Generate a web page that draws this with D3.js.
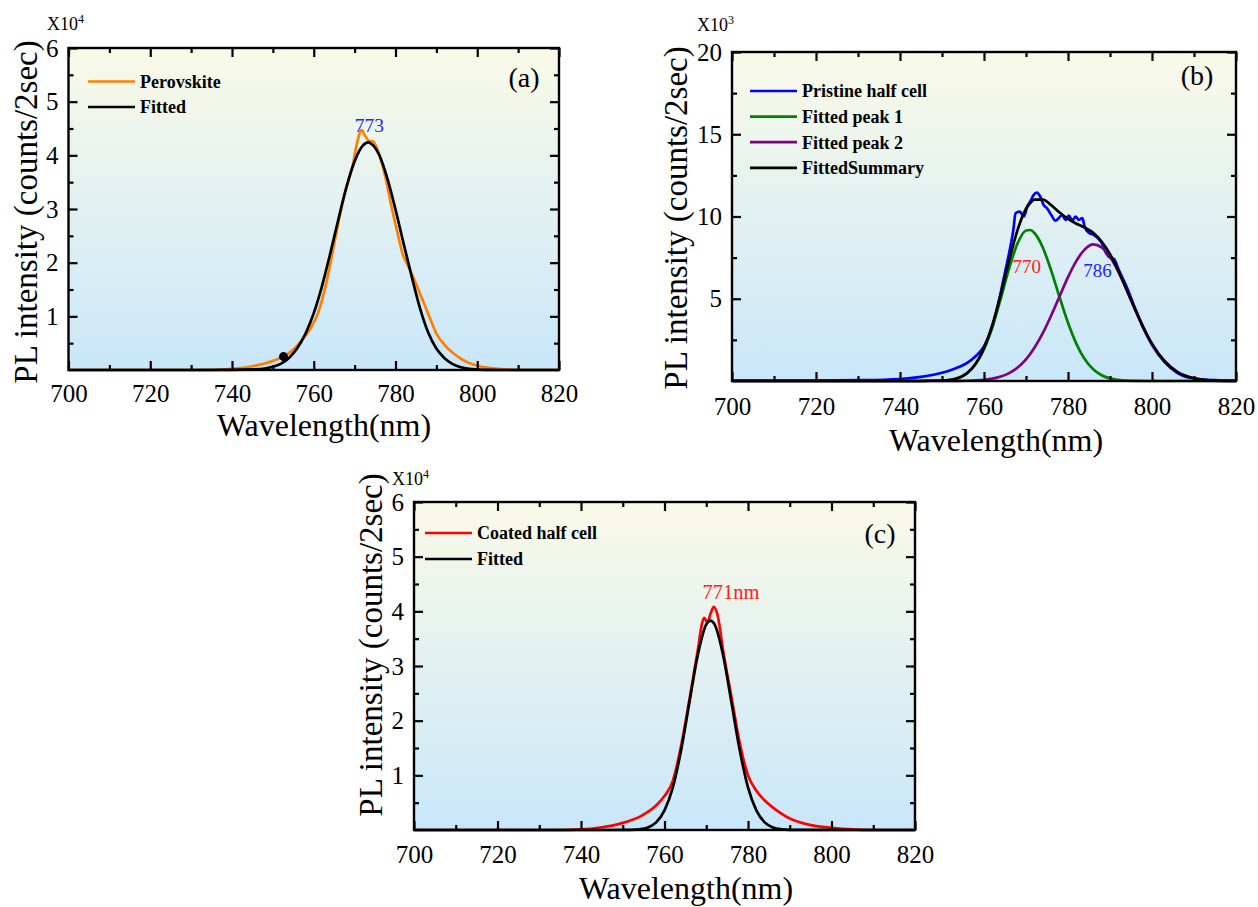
<!DOCTYPE html>
<html>
<head>
<meta charset="utf-8">
<script src="https://cdn.jsdelivr.net/npm/d3@7"></script>
<style>
  body { margin: 0; background: #fff; }
  svg { display: block; font-family: "Liberation Serif", "Times New Roman", serif; }
</style>
</head>
<body>
<div id="chart"></div>
<script>
// ---- panel (a): perovskite film, intensity in units of 1e4 counts
const wlPerov = [700, 720, 735, 740, 745, 748, 750, 752.6, 755, 757, 759, 761, 763, 765, 767, 768.5, 769.5, 770.5, 771.7, 772.6, 773.5, 774.5, 776, 777.5, 779, 780.5, 781.8, 783, 784.5, 786, 788, 790, 792, 794, 796, 798, 800, 803, 806, 810, 820];
const perovskite = [0, 0, 0, 0.02, 0.07, 0.12, 0.17, 0.25, 0.38, 0.55, 0.75, 1.05, 1.6, 2.35, 3.1, 3.54, 3.8, 4.2, 4.47, 4.36, 4.27, 4.26, 4.02, 3.6, 3.05, 2.55, 2.15, 1.95, 1.7, 1.42, 1.05, 0.68, 0.47, 0.32, 0.21, 0.13, 0.08, 0.04, 0.015, 0, 0];
const wlFitA = [700, 730, 740, 745, 748, 750, 752, 754, 756, 758, 760, 762, 764, 766, 768, 770, 772, 773.3, 774, 776, 778, 780, 782, 784, 786, 788, 790, 792, 794, 796, 798, 800, 805, 820];
const fittedA = [0, 0, 0.002, 0.01, 0.028, 0.06, 0.12, 0.23, 0.41, 0.68, 1.06, 1.56, 2.16, 2.8, 3.41, 3.89, 4.18, 4.24, 4.22, 4.01, 3.57, 2.99, 2.35, 1.73, 1.15, 0.7, 0.4, 0.22, 0.11, 0.05, 0.02, 0.008, 0, 0];
const markA = [752.6, 0.25];

// ---- panel (b): pristine half cell, intensity in units of 1e3 counts
const wlPristine = [700, 720, 730, 740, 745, 748, 750, 752, 754, 756, 758, 760, 762, 764, 765, 766, 767, 767.5, 768.5, 769.5, 770.3, 771, 771.8, 772.6, 773.4, 774.2, 775, 776, 777, 777.8, 778.6, 779.4, 780.2, 781, 781.8, 782.6, 783.4, 784, 785, 786, 787, 788, 789, 790, 791, 792, 794, 796, 798, 800, 803, 806, 810, 815, 820];
const pristine = [0.02, 0.03, 0.05, 0.12, 0.25, 0.38, 0.5, 0.65, 0.85, 1.1, 1.5, 2.1, 3.3, 5.4, 6.6, 7.8, 9.2, 10.2, 10.3, 10.0, 10.6, 10.9, 11.3, 11.45, 11.2, 10.7, 10.5, 10.1, 9.75, 9.9, 10.1, 9.8, 10.05, 9.75, 10.0, 9.8, 9.9, 9.35, 9.0, 8.9, 8.7, 8.4, 7.8, 7.5, 7.4, 6.8, 5.7, 4.4, 3.2, 2.2, 1.15, 0.5, 0.15, 0.05, 0.02];
const wlFitB = [700, 720, 730, 740, 745, 750, 753, 756, 758, 760, 762, 764, 766, 768, 770, 771, 772, 774, 776, 778, 780, 782, 784, 786, 788, 790, 792, 794, 796, 798, 800, 803, 806, 810, 815, 820];
const peak1 = [0, 0, 0, 0, 0, 0.03, 0.12, 0.48, 1.02, 1.93, 3.28, 5.02, 6.86, 8.37, 9.15, 9.18, 9.0, 8.12, 6.71, 5.09, 3.54, 2.26, 1.32, 0.71, 0.35, 0.16, 0.07, 0.025, 0.01, 0, 0, 0, 0, 0, 0, 0];
const peak2 = [0, 0, 0, 0, 0, 0.001, 0.004, 0.014, 0.033, 0.069, 0.14, 0.27, 0.48, 0.82, 1.32, 1.64, 2.02, 2.91, 3.98, 5.15, 6.31, 7.3, 8.0, 8.3, 8.13, 7.55, 6.63, 5.51, 4.33, 3.22, 2.26, 1.2, 0.56, 0.17, 0.028, 0.003];
const summary = [0, 0, 0, 0, 0, 0.03, 0.12, 0.49, 1.05, 2.0, 3.42, 5.29, 7.34, 9.19, 10.47, 10.82, 11.02, 11.03, 10.69, 10.24, 9.85, 9.56, 9.32, 9.01, 8.48, 7.71, 6.7, 5.54, 4.34, 3.22, 2.26, 1.2, 0.56, 0.17, 0.03, 0];

// ---- panel (c): coated half cell, intensity in units of 1e4 counts
const wlCoated = [700, 735, 740, 745, 748, 750, 752, 754, 756, 758, 760, 762, 764, 766, 768, 769, 769.5, 770.3, 771, 771.8, 772.8, 774, 776, 778, 780, 782, 784, 786, 788, 790, 792, 795, 800, 805, 810, 820];
const coated = [0, 0, 0.01, 0.05, 0.09, 0.13, 0.18, 0.24, 0.33, 0.45, 0.62, 0.9, 1.55, 2.4, 3.3, 3.78, 3.88, 3.8, 3.95, 4.08, 3.9, 3.3, 2.45, 1.6, 1.0, 0.72, 0.54, 0.41, 0.3, 0.21, 0.15, 0.09, 0.04, 0.01, 0, 0];
const wlFitC = [700, 745, 750, 752, 754, 756, 758, 760, 762, 764, 766, 768, 770, 771, 772, 774, 776, 778, 780, 782, 784, 786, 788, 790, 792, 820];
const fittedC = [0, 0, 0.001, 0.003, 0.013, 0.046, 0.14, 0.36, 0.78, 1.47, 2.35, 3.21, 3.76, 3.83, 3.76, 3.21, 2.35, 1.47, 0.78, 0.36, 0.14, 0.046, 0.013, 0.003, 0.001, 0];

// ---- axis ticks
const xMajor = [700, 720, 740, 760, 780, 800, 820];
const xMinor = [710, 730, 750, 770, 790, 810];
const yMajorA = [1, 2, 3, 4, 5, 6];
const yMinorA = [0.5, 1.5, 2.5, 3.5, 4.5, 5.5];
const yMajorB = [5, 10, 15, 20];
const yMinorB = [2.5, 7.5, 12.5, 17.5];

const svg = d3.select("#chart").append("svg")
    .attr("width", 1258)
    .attr("height", 907);

// background gradient of the plot areas (cream at top, light blue at bottom)
const grad = svg.append("defs").append("linearGradient")
    .attr("id", "bg-grad")
    .attr("x1", "0%").attr("x2", "0%")
    .attr("y1", "0%").attr("y2", "100%");
grad.append("stop").attr("offset", "0%").attr("stop-color", "#fafae8");
grad.append("stop").attr("offset", "100%").attr("stop-color", "#c9e7fa");

const FONT = "Liberation Serif, Times New Roman, serif";

function drawPanel(p) {
  const w = p.x1 - p.x0, h = p.y1 - p.y0;
  const g = svg.append("g").attr("transform", `translate(${p.x0},${p.y0})`);
  const x = d3.scaleLinear().domain([700, 820]).range([0, w]);
  const y = d3.scaleLinear().domain([0, p.yMax]).range([h, 0]);

  g.append("rect").attr("width", w).attr("height", h).attr("fill", "url(#bg-grad)");

  const line = d3.line()
      .x(d => x(d[0]))
      .y(d => y(d[1]))
      .curve(d3.curveMonotoneX);

  p.series.forEach(s => {
    g.append("path")
        .datum(d3.zip(s.x, s.y))
        .attr("d", line)
        .attr("fill", "none")
        .attr("stroke", s.color)
        .attr("stroke-width", 2.7)
        .attr("stroke-linejoin", "round");
  });

  if (p.mark) {
    g.append("circle").attr("cx", x(p.mark[0])).attr("cy", y(p.mark[1])).attr("r", 4.5).attr("fill", "#000");
  }

  // ticks point inwards on all four sides
  const styleAxis = sel => {
    sel.select(".domain").remove();
    sel.selectAll("line").attr("stroke", "#000").attr("stroke-width", 2.2);
    sel.selectAll("text").attr("font-family", FONT).attr("font-size", 25).attr("fill", "#000");
  };
  const addAxis = (axis, tf) => g.append("g").attr("transform", tf).call(axis).call(styleAxis);

  addAxis(d3.axisBottom(x).tickValues(xMinor).tickSize(-5).tickFormat(""), `translate(0,${h})`);
  addAxis(d3.axisBottom(x).tickValues(xMajor).tickSize(-9).tickPadding(p.xPad).tickFormat(d3.format("d")), `translate(0,${h})`);
  addAxis(d3.axisTop(x).tickValues(xMinor).tickSize(-5).tickFormat(""), "translate(0,0)");
  addAxis(d3.axisTop(x).tickValues(xMajor).tickSize(-9).tickFormat(""), "translate(0,0)");
  addAxis(d3.axisLeft(y).tickValues(p.yMinor).tickSize(-5).tickFormat(""), "translate(0,0)");
  addAxis(d3.axisLeft(y).tickValues(p.yMajor).tickSize(-9).tickPadding(10).tickFormat(d3.format("d")), "translate(0,0)");
  addAxis(d3.axisRight(y).tickValues(p.yMinor).tickSize(-5).tickFormat(""), `translate(${w},0)`);
  addAxis(d3.axisRight(y).tickValues(p.yMajor).tickSize(-9).tickFormat(""), `translate(${w},0)`);

  g.append("rect").attr("width", w).attr("height", h)
      .attr("fill", "none").attr("stroke", "#000").attr("stroke-width", 2.4);

  // multiplier above the y axis
  const mult = svg.append("text")
      .attr("x", p.multX).attr("y", p.multY)
      .attr("font-family", FONT).attr("font-size", 18)
      .text("X10");
  mult.append("tspan").attr("dy", -7).attr("font-size", 12).text(p.exp);

  // axis titles
  svg.append("text")
      .attr("x", p.xTitleX).attr("y", p.xTitleY)
      .attr("text-anchor", "middle")
      .attr("font-family", FONT).attr("font-size", 32)
      .text("Wavelength(nm)");
  svg.append("text")
      .attr("transform", `translate(${p.yTitleX},${p.yTitleY}) rotate(-90)`)
      .attr("text-anchor", "middle")
      .attr("font-family", FONT).attr("font-size", 33)
      .text("PL intensity (counts/2sec)");

  // panel letter
  svg.append("text")
      .attr("x", p.tagX).attr("y", p.tagY)
      .attr("text-anchor", "middle")
      .attr("font-family", FONT).attr("font-size", 28)
      .text(p.tag);

  // legend
  p.series.slice().sort((a, b) => a.order - b.order).forEach((s, i) => {
    const ly = p.legY + i * p.legStep;
    svg.append("line")
        .attr("x1", p.legX).attr("x2", p.legX + 47)
        .attr("y1", ly).attr("y2", ly)
        .attr("stroke", s.color).attr("stroke-width", 2.7);
    svg.append("text")
        .attr("x", p.legX + 52).attr("y", ly)
        .attr("dy", "0.35em")
        .attr("font-family", FONT).attr("font-weight", "bold").attr("font-size", p.legFont)
        .text(s.name);
  });

  // peak annotations
  p.notes.forEach(n => {
    g.append("text")
        .attr("x", x(n.wl)).attr("y", y(n.v))
        .attr("text-anchor", "middle")
        .attr("font-family", FONT).attr("font-size", n.size)
        .attr("fill", n.color)
        .text(n.text);
  });
}

drawPanel({
  x0: 68.5, x1: 559, y0: 48, y1: 370, yMax: 6,
  yMajor: yMajorA, yMinor: yMinorA, xPad: 14,
  multX: 47, multY: 30, exp: "4",
  xTitleX: 324, xTitleY: 436, yTitleX: 37, yTitleY: 212,
  tag: "(a)", tagX: 524, tagY: 87,
  legX: 88, legY: 81.5, legStep: 25.5, legFont: 18,
  mark: markA,
  series: [
    { name: "Perovskite", x: wlPerov, y: perovskite, color: "#ff8000", order: 0 },
    { name: "Fitted", x: wlFitA, y: fittedA, color: "#000000", order: 1 }
  ],
  notes: [{ text: "773", wl: 773.6, v: 4.43, color: "#2323ff", size: 19.5 }]
});

drawPanel({
  x0: 732, x1: 1236, y0: 52, y1: 381, yMax: 20,
  yMajor: yMajorB, yMinor: yMinorB, xPad: 16,
  multX: 697, multY: 31, exp: "3",
  xTitleX: 996, xTitleY: 451, yTitleX: 687, yTitleY: 218,
  tag: "(b)", tagX: 1197, tagY: 85,
  legX: 750, legY: 91, legStep: 25.6, legFont: 18,
  series: [
    { name: "Pristine half cell", x: wlPristine, y: pristine, color: "#0000ff", order: 0 },
    { name: "Fitted peak 1", x: wlFitB, y: peak1, color: "#008000", order: 1 },
    { name: "Fitted peak 2", x: wlFitB, y: peak2, color: "#800080", order: 2 },
    { name: "FittedSummary", x: wlFitB, y: summary, color: "#000000", order: 3 }
  ],
  notes: [
    { text: "770", wl: 770.2, v: 6.55, color: "#ff2020", size: 19 },
    { text: "786", wl: 787.0, v: 6.34, color: "#2323ff", size: 19 }
  ]
});

drawPanel({
  x0: 414, x1: 915, y0: 502, y1: 830, yMax: 6,
  yMajor: yMajorA, yMinor: yMinorA, xPad: 15,
  multX: 392, multY: 485, exp: "4",
  xTitleX: 686, xTitleY: 899, yTitleX: 382, yTitleY: 645,
  tag: "(c)", tagX: 880, tagY: 543,
  legX: 425, legY: 533, legStep: 26, legFont: 18,
  series: [
    { name: "Coated half cell", x: wlCoated, y: coated, color: "#ff0000", order: 0 },
    { name: "Fitted", x: wlFitC, y: fittedC, color: "#000000", order: 1 }
  ],
  notes: [{ text: "771nm", wl: 775.9, v: 4.23, color: "#ff2020", size: 20.5 }]
});
</script>
</body>
</html>
